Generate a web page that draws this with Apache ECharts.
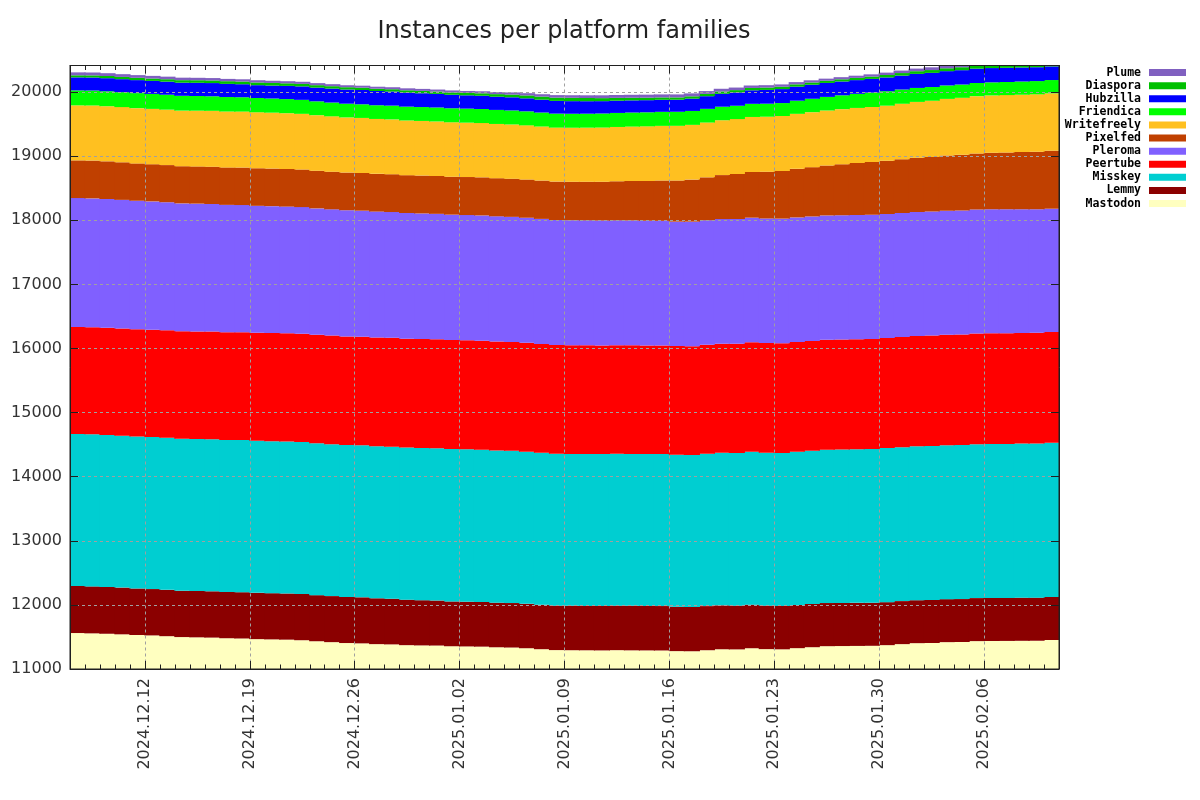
<!DOCTYPE html>
<html><head><meta charset="utf-8">
<script src="https://cdn.jsdelivr.net/npm/echarts@6/dist/echarts.min.js"></script>
<style>html,body{margin:0;padding:0;background:#fff}#c{width:1200px;height:800px}</style>
</head><body><div id="c"></div>
<script>
// one entry per day, 2024-12-07 .. 2025-02-10 (each value fills its whole day)
const dates = ['2024-12-07','2024-12-08','2024-12-09','2024-12-10','2024-12-11','2024-12-12','2024-12-13','2024-12-14','2024-12-15','2024-12-16',
'2024-12-17','2024-12-18','2024-12-19','2024-12-20','2024-12-21','2024-12-22','2024-12-23','2024-12-24','2024-12-25','2024-12-26',
'2024-12-27','2024-12-28','2024-12-29','2024-12-30','2024-12-31','2025-01-01','2025-01-02','2025-01-03','2025-01-04','2025-01-05',
'2025-01-06','2025-01-07','2025-01-08','2025-01-09','2025-01-10','2025-01-11','2025-01-12','2025-01-13','2025-01-14','2025-01-15',
'2025-01-16','2025-01-17','2025-01-18','2025-01-19','2025-01-20','2025-01-21','2025-01-22','2025-01-23','2025-01-24','2025-01-25',
'2025-01-26','2025-01-27','2025-01-28','2025-01-29','2025-01-30','2025-01-31','2025-02-01','2025-02-02','2025-02-03','2025-02-04',
'2025-02-05','2025-02-06','2025-02-07','2025-02-08','2025-02-09','2025-02-10'];
const endDate = '2025-02-11';
const xTickLabels = ['2024.12.12','2024.12.19','2024.12.26','2025.01.02','2025.01.09','2025.01.16','2025.01.23','2025.01.30','2025.02.06'];

const mastodon = [11561,11556,11550,11541,11530,11524,11512,11498,11494,11490,11480,11476,11466,11462,11458,11449,11433,11419,11405,11400,
11388,11384,11372,11368,11366,11355,11352,11349,11339,11335,11324,11309,11295,11293,11292,11290,11294,11291,11290,11289,
11279,11277,11293,11308,11306,11324,11310,11307,11325,11340,11356,11358,11360,11362,11372,11388,11403,11406,11419,11421,
11435,11437,11438,11440,11441,11452];
const lemmy = [734,733,731,729,726,723,723,722,723,722,721,722,722,721,720,721,719,718,718,718,
715,712,709,705,702,699,697,696,695,694,693,693,692,692,692,693,693,694,693,693,
693,690,688,685,682,680,678,676,675,674,673,672,672,671,671,671,670,671,671,670,
671,671,671,672,672,672];
const misskey = [2371,2372,2371,2370,2371,2371,2372,2371,2372,2372,2372,2373,2372,2372,2371,2372,2371,2371,2372,2371,
2372,2373,2374,2375,2376,2377,2378,2377,2376,2375,2374,2373,2372,2371,2371,2371,2370,2371,2371,2371,
2371,2373,2376,2379,2382,2384,2386,2387,2389,2391,2393,2396,2398,2400,2403,2402,2402,2403,2402,2402,
2402,2402,2403,2404,2404,2405];
const peertube = [1669,1670,1671,1672,1674,1675,1676,1677,1678,1680,1681,1683,1684,1686,1688,1689,1691,1693,1694,1696,
1697,1698,1698,1699,1699,1700,1700,1699,1698,1697,1697,1696,1696,1695,1695,1694,1695,1695,1694,1695,
1695,1697,1700,1703,1706,1708,1710,1712,1713,1713,1714,1715,1715,1716,1716,1718,1719,1721,1722,1724,
1725,1727,1727,1727,1728,1727];
const pleroma = [2012,2011,2009,2007,2004,2002,1999,1996,1993,1990,1987,1984,1982,1980,1977,1975,1972,1970,1968,1965,
1964,1962,1961,1960,1958,1957,1955,1955,1954,1953,1952,1951,1950,1950,1949,1948,1947,1946,1945,1943,
1941,1942,1943,1944,1944,1945,1944,1944,1943,1942,1940,1939,1938,1937,1935,1934,1935,1936,1936,1937,
1937,1936,1934,1931,1928,1925];
const pixelfed = [588,590,588,586,583,580,579,580,581,583,584,585,586,586,587,587,588,588,588,589,
589,590,590,591,591,592,593,594,595,596,597,598,599,601,603,606,610,616,622,630,
642,656,670,686,702,714,730,743,758,769,779,796,812,824,831,839,846,850,860,868,
874,880,885,890,897,905];
const writefreely = [858,859,860,861,862,863,865,867,869,871,872,873,873,872,870,868,866,863,860,858,
856,855,853,852,850,849,848,847,846,845,844,843,842,842,843,845,847,849,851,852,
853,854,855,856,857,857,858,858,858,858,858,858,858,858,860,866,872,878,884,889,
893,895,895,895,895,895];
const friendica = [234,234,233,233,234,234,233,231,229,227,226,224,223,221,220,218,216,215,214,213,
214,215,216,217,218,219,219,219,219,219,219,218,218,218,218,219,219,219,219,219,
219,217,214,211,208,205,203,202,205,209,212,216,220,224,226,222,218,214,210,207,
205,204,205,206,207,207];
const hubzilla = [203,203,204,203,203,203,204,205,206,206,205,203,200,202,206,210,214,218,221,223,
222,220,218,215,212,210,208,207,206,205,203,201,199,197,195,193,191,190,189,188,
188,192,197,202,207,211,215,218,219,219,218,216,214,214,215,217,219,221,223,224,
224,223,221,219,216,213];
const diaspora = [32,33,34,35,36,37,38,39,40,41,42,42,42,41,40,39,38,37,36,36,
36,36,37,37,37,37,37,38,40,42,45,48,51,52,50,47,44,41,39,37,
36,36,36,36,37,37,37,37,36,35,34,34,35,36,38,40,42,44,45,46,
46,46,46,46,46,46];
const plume = [46,45,44,43,42,41,40,39,38,37,36,35,35,34,33,33,32,32,31,31,
31,31,31,31,31,31,31,32,33,34,35,37,39,40,42,44,45,46,47,47,
47,46,44,42,40,38,37,36,35,34,33,33,34,35,37,39,41,43,45,46,
46,46,46,46,46,46];

const seriesNames = ['Mastodon','Lemmy','Misskey','Peertube','Pleroma','Pixelfed','Writefreely','Friendica','Hubzilla','Diaspora','Plume'];
const seriesValues = [mastodon,lemmy,misskey,peertube,pleroma,pixelfed,writefreely,friendica,hubzilla,diaspora,plume];
const seriesColors = ['#ffffc0','#8b0000','#00ced1','#ff0000','#8060ff','#c04000','#ffc020','#00ff00','#0000ff','#00c000','#8060c0'];

const boundaryDates = dates.concat([endDate]);
const tickIdx = xTickLabels.map(l => boundaryDates.indexOf(l.replace(/\./g, '-')));
const isMajor = (i) => tickIdx.indexOf(i) >= 0;
const frame = '#202020';
const gridCol = '#a0a0a0';
const font = 'DejaVu Sans';

const chart = echarts.init(document.getElementById('c'), null, {renderer: 'canvas'});
const series = seriesNames.map((name, k) => ({
  name, type: 'bar', stack: 'total', xAxisIndex: 0, yAxisIndex: 0,
  barWidth: 16.2, z: 2,
  data: seriesValues[k],
  itemStyle: {color: seriesColors[k], borderWidth: 0},
  emphasis: {disabled: true}
}));

const tickAxis = (pos, extra) => Object.assign({
  type: 'category', position: pos, data: boundaryDates, boundaryGap: false, z: 10,
  axisLine: {show: false}, axisLabel: {show: false}, splitLine: {show: false},
  axisTick: {show: true, inside: true, interval: 0, length: 4.5, lineStyle: {color: frame}}
}, extra || {});

chart.setOption({
  animation: false,
  backgroundColor: '#fff',
  title: {
    text: 'Instances per platform families', left: 564, top: 20, textAlign: 'center', padding: 0,
    textStyle: {fontFamily: font, fontSize: 24, fontWeight: 'normal', color: '#222'}
  },
  legend: {
    orient: 'vertical', right: 14, top: 66, align: 'right', icon: 'rect', padding: 0,
    itemWidth: 37, itemHeight: 7, itemGap: 0, selectedMode: false,
    data: seriesNames.slice().reverse(),
    textStyle: {fontFamily: 'DejaVu Sans Mono', fontWeight: 'bold', fontSize: 11.5, color: '#000',
      width: 80, align: 'right', lineHeight: 13.1, padding: [0, 3, 0, 0]}
  },
  grid: {left: 70, right: 141, top: 65.5, bottom: 131, show: true, z: 12, borderColor: frame, borderWidth: 1, backgroundColor: 'transparent', containLabel: false},
  xAxis: [
    {type: 'category', data: dates, boundaryGap: true, show: false},
    tickAxis('bottom', {
      axisLine: {show: true, onZero: false, lineStyle: {color: frame}},
      axisTick: {show: true, inside: true, length: 8, interval: (i) => isMajor(i), lineStyle: {color: frame}},
      axisLabel: {show: true, interval: (i) => isMajor(i), rotate: 90, margin: 9, fontFamily: font, fontSize: 16, color: '#333',
        formatter: (v) => v.replace(/-/g, '.')},
      splitLine: {show: true, interval: (i) => isMajor(i), lineStyle: {color: gridCol, type: [3, 3], width: 1}}
    }),
    tickAxis('bottom'),
    tickAxis('top'),
    tickAxis('top', {axisLine: {show: true, onZero: false, lineStyle: {color: frame}},
      axisTick: {show: true, inside: true, length: 8, interval: (i) => isMajor(i), lineStyle: {color: frame}}})
  ],
  yAxis: [
    {
      type: 'value', position: 'left', min: 11000, max: 20415, interval: 1000, z: 10,
      axisLine: {show: true, lineStyle: {color: frame}},
      axisTick: {show: true, inside: true, length: 8, lineStyle: {color: frame}},
      axisLabel: {show: true, showMaxLabel: false, margin: 8, fontFamily: font, fontSize: 16, color: '#333',
        formatter: (v) => String(v)},
      splitLine: {show: true, showMinLine: false, showMaxLine: false, lineStyle: {color: gridCol, type: [3, 3], width: 1}}
    },
    {
      type: 'value', position: 'right', min: 11000, max: 20415, interval: 1000, z: 10,
      axisLine: {show: true, lineStyle: {color: frame}},
      axisTick: {show: true, inside: true, length: 8, lineStyle: {color: frame}},
      axisLabel: {show: false}, splitLine: {show: false}
    }
  ],
  series
});
</script>
</body></html>
